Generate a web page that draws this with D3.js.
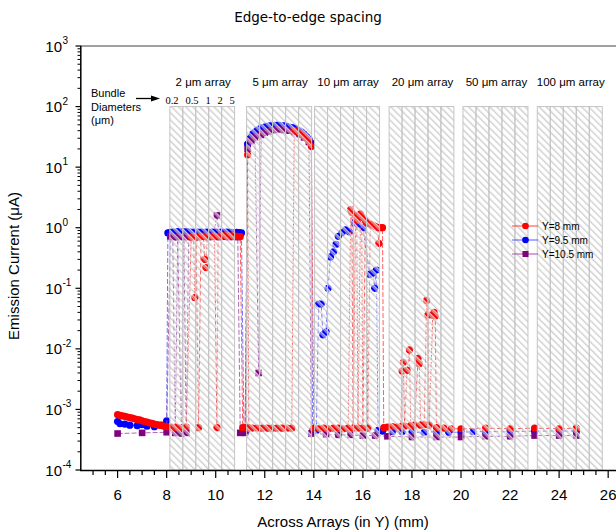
<!DOCTYPE html>
<html><head><meta charset="utf-8">
<script src="https://cdn.jsdelivr.net/npm/d3@7"></script>
<style>body{margin:0;background:#fff}svg{display:block}</style>
</head><body>
<script>
const title = "Edge-to-edge spacing";
const xLabel = "Across Arrays (in Y) (mm)";
const yLabel = "Emission Current (\u03bcA)";
const xTicks = [6, 8, 10, 12, 14, 16, 18, 20, 22, 24, 26];
const yTickExps = [-4, -3, -2, -1, 0, 1, 2, 3];
const arrayNames = ["2 \u03bcm array", "5 \u03bcm array", "10 \u03bcm array", "20 \u03bcm array", "50 \u03bcm array", "100 \u03bcm array"];
const arrayStart = [8.13, 11.26, 14.03, 17.07, 20.08, 23.11];
const arrayEnd = [10.77, 13.91, 16.68, 19.71, 22.73, 25.76];
const bundleDiameters = ["0.2", "0.5", "1", "2", "5"];
const seriesNames = ["Y=8 mm", "Y=9.5 mm", "Y=10.5 mm"];

const redX = [6.0,6.1,6.2,6.3,6.4,6.5,6.6,6.7,6.8,6.9,7.0,7.1,7.2,7.3,7.4,7.5,7.6,7.7,7.8,7.9,8.0,
  8.2,8.4,8.6,8.8,9.0,9.1,9.15,9.2,9.3,9.4,9.5,9.55,9.6,9.65,9.8,9.95,10.05,10.1,10.2,10.3,10.4,10.5,10.6,10.7,10.8,10.9,11.0,
  11.1,11.2,11.3,11.35,11.5,11.7,11.9,12.1,12.3,12.5,12.7,12.9,13.1,13.2,13.3,13.4,13.5,13.6,13.7,13.8,13.9,
  14.0,14.2,14.4,14.6,14.8,15.0,15.2,15.4,15.5,15.55,15.6,15.7,15.75,15.8,15.9,15.95,16.0,16.1,16.15,16.2,16.3,16.4,16.5,16.6,16.65,16.7,16.8,16.85,
  17.0,17.2,17.4,17.55,17.6,17.65,17.7,17.8,17.9,17.95,18.1,18.25,18.3,18.35,18.5,18.6,18.65,18.7,18.85,18.9,18.95,19.0,
  19.3,19.6,20.0,21.0,22.0,23.0,24.0,24.7];
const redY = [8.2e-4,8.0e-4,7.8e-4,7.7e-4,7.5e-4,7.3e-4,7.2e-4,7.0e-4,6.8e-4,6.7e-4,6.5e-4,6.3e-4,6.2e-4,6.0e-4,5.9e-4,5.7e-4,5.6e-4,5.5e-4,5.4e-4,5.3e-4,5.2e-4,
  5.1e-4,5.0e-4,5.0e-4,5.1e-4,0.7,0.72,0.07,0.7,5.0e-4,0.71,0.73,0.3,0.22,0.71,0.72,0.73,5.0e-4,0.72,0.73,0.74,0.73,0.74,0.73,0.74,0.73,0.72,0.71,
  5.0e-4,5.0e-4,16,5.0e-4,4.9e-4,4.9e-4,4.9e-4,4.9e-4,4.9e-4,4.9e-4,4.9e-4,4.9e-4,4.9e-4,40,39,37,35,33,30,27,22,
  4.9e-4,4.8e-4,4.9e-4,4.8e-4,4.9e-4,4.9e-4,4.8e-4,4.9e-4,2.0,1.8,4.9e-4,1.6,1.3,4.9e-4,1.7,1.5,4.9e-4,1.3,1.2,4.9e-4,1.15,1.1,1.05,1.0,0.55,1.0,1.0,5.0e-4,
  5.1e-4,5.2e-4,5.1e-4,5.2e-4,4.3e-3,6.0e-3,5.3e-4,4.4e-3,9.6e-3,5.4e-4,5.5e-4,7.0e-3,5.7e-3,5.5e-4,5.6e-4,0.063,0.036,5.5e-4,0.036,0.040,0.035,5.0e-4,
  4.9e-4,4.8e-4,4.8e-4,4.9e-4,4.8e-4,4.9e-4,4.8e-4,4.9e-4];

const blueX = [6.0,6.1,6.3,6.5,6.8,7.0,7.2,7.5,7.8,8.0,
  8.05,8.15,8.25,8.35,8.45,8.55,8.65,8.75,8.85,8.95,9.05,9.15,9.25,9.35,9.45,9.55,9.65,9.75,9.85,9.95,
  10.05,10.15,10.25,10.35,10.45,10.55,10.65,10.75,10.85,10.95,11.05,11.15,11.25,
  11.3,11.4,11.5,11.6,11.7,11.8,11.9,12.0,12.1,12.2,12.3,12.4,12.5,12.6,12.7,12.8,12.9,13.0,13.1,13.2,13.3,13.4,13.5,13.6,13.7,13.8,13.9,13.95,
  14.1,14.2,14.3,14.37,14.5,14.58,14.68,14.8,14.9,15.0,15.15,15.3,15.45,15.65,15.8,16.0,16.28,16.42,16.48,16.55,16.62,
  16.8,17.2,17.6,18.0,18.5,19.0,19.5,20.0,20.5,21.0,22.0,23.0,24.0,24.7];
const blueY = [6.3e-4,5.8e-4,5.7e-4,5.5e-4,5.4e-4,5.6e-4,5.3e-4,5.2e-4,5.5e-4,6.5e-4,
  0.82,0.84,0.85,0.85,0.86,0.85,0.86,0.85,0.86,0.85,0.84,0.85,0.85,0.84,0.85,0.84,0.85,0.84,0.85,0.84,
  0.85,0.84,0.85,0.84,0.85,0.84,0.84,0.83,0.84,0.83,0.82,4.5e-4,4.5e-4,
  24,30,35,38,41,43,45,46,47,48,48,49,49,49,48,48,47,46,45,44,42,40,38,35,32,29,25,4.5e-4,
  4.5e-4,0.055,0.055,0.017,0.019,0.1,0.33,0.4,0.53,0.72,0.83,0.92,0.86,1.22,1.15,1.0,0.17,0.18,0.1,0.2,4.5e-4,
  4.4e-4,4.3e-4,4.3e-4,4.2e-4,4.2e-4,4.3e-4,4.2e-4,4.2e-4,4.3e-4,4.3e-4,4.3e-4,4.4e-4,4.4e-4,4.4e-4];

const purpleX = [6.0,7.0,8.0,8.15,8.25,8.35,8.45,8.6,8.7,8.8,8.9,9.1,9.3,9.5,9.7,9.9,10.05,10.15,10.35,10.55,10.75,10.9,
  11.0,11.2,11.3,11.45,11.6,11.75,11.85,12.0,12.2,12.4,12.6,12.8,13.0,13.2,13.4,13.6,13.8,13.9,
  14.5,15.0,15.5,16.0,16.5,17.0,18.0,19.0,20.0,21.0,22.0,23.0,24.0,24.7];
const purpleY = [4.0e-4,4.1e-4,4.2e-4,0.72,0.7,4.1e-4,0.7,4.0e-4,0.7,4.1e-4,0.7,0.71,0.7,0.71,0.7,0.71,1.6,0.7,0.71,0.7,0.71,0.7,
  4.1e-4,4.1e-4,20,27,31,4.0e-3,34,37,39,41,42,41,40,38,35,31,26,4.0e-4,
  3.9e-4,3.8e-4,3.8e-4,3.7e-4,3.7e-4,3.6e-4,3.5e-4,3.5e-4,3.5e-4,3.6e-4,3.6e-4,3.7e-4,3.7e-4,3.7e-4];

const W = 616, H = 531;
const svg = d3.select("body").append("svg").attr("width", W).attr("height", H)
  .style("font-family", "'Liberation Sans', Arial, sans-serif");

const x = d3.scaleLinear().domain([4.5, 27]).range([80.8, 632.7]);
const y = d3.scaleLog().domain([1e-4, 1e3]).range([470, 46]);

// hatch pattern
const defs = svg.append("defs");
const pat = defs.append("pattern").attr("id", "hatch").attr("patternUnits", "userSpaceOnUse")
  .attr("width", 5).attr("height", 5).attr("patternTransform", "rotate(-45)");
pat.append("line").attr("x1", 2.2).attr("x2", 2.2).attr("y1", 0).attr("y2", 5)
  .attr("stroke", "#fff").attr("stroke-width", 1.1);
pat.append("line").attr("x1", 0.8).attr("x2", 0.8).attr("y1", 0).attr("y2", 5)
  .attr("stroke", "#bababa").attr("stroke-width", 1);

// series
const series = [
  {name: seriesNames[1], xs: blueX, ys: blueY, color: "#0000ff", line: "#5a5aff", sym: "circle"},
  {name: seriesNames[2], xs: purpleX, ys: purpleY, color: "#800080", line: "#a050a8", sym: "square"},
  {name: seriesNames[0], xs: redX, ys: redY, color: "#ff0000", line: "#ff4040", sym: "circle"}
];
const line = d3.line().x(d => x(d[0])).y(d => y(d[1]));
const gData = svg.append("g");
series.forEach(s => {
  const pts = s.xs.map((v, i) => [v, s.ys[i]]);
  gData.append("path").attr("d", line(pts)).attr("fill", "none")
    .attr("stroke", s.line).attr("stroke-width", 1).attr("stroke-dasharray", "5,2").attr("opacity", 0.85);
  if (s.sym === "circle") {
    gData.selectAll(null).data(pts).enter().append("circle")
      .attr("cx", d => x(d[0])).attr("cy", d => y(d[1])).attr("r", 3.6).attr("fill", s.color);
  } else {
    gData.selectAll(null).data(pts).enter().append("rect")
      .attr("x", d => x(d[0]) - 3.3).attr("y", d => y(d[1]) - 3.3).attr("width", 6.6).attr("height", 6.6)
      .attr("fill", s.color);
  }
});

// hatched array regions (drawn over data)
const gArr = svg.append("g");
arrayStart.forEach((s, i) => {
  const x0 = x(s), x1 = x(arrayEnd[i]);
  const cw = (x1 - x0) / bundleDiameters.length;
  bundleDiameters.forEach((b, j) => {
    gArr.append("rect").attr("x", x0 + j * cw).attr("y", y(100)).attr("width", cw).attr("height", y(1e-4) - y(100))
      .attr("fill", "url(#hatch)").attr("stroke", "#c4c4c4").attr("stroke-width", 1);
  });
  svg.append("text").attr("x", (x0 + x1) / 2 + 1).attr("y", 86).attr("text-anchor", "middle")
    .attr("font-size", 11.5).text(arrayNames[i]);
});

// bundle diameter labels above first array
const diamLabelX = [172, 192, 208, 220, 232];
bundleDiameters.forEach((b, j) => {
  svg.append("text").attr("x", diamLabelX[j]).attr("y", 104).attr("text-anchor", "middle")
    .attr("font-family", "'Liberation Serif', 'Times New Roman', serif").attr("font-size", 10.5).text(b);
});
const bl = svg.append("text").attr("font-size", 11).attr("x", 91);
bl.append("tspan").attr("x", 91).attr("y", 97).text("Bundle");
bl.append("tspan").attr("x", 91).attr("y", 110.6).text("Diameters");
bl.append("tspan").attr("x", 91).attr("y", 124.3).text("(\u03bcm)");
svg.append("line").attr("x1", 136).attr("x2", 153).attr("y1", 98.5).attr("y2", 98.5).attr("stroke", "#000").attr("stroke-width", 1.3);
svg.append("path").attr("d", "M160,98.5 L151,95.5 L151,101.5 Z").attr("fill", "#000");

// axes
const gAx = svg.append("g");
gAx.append("line").attr("x1", 80.8).attr("x2", W).attr("y1", 46).attr("y2", 46).attr("stroke", "#808080").attr("stroke-width", 1.5);
gAx.append("line").attr("x1", 80.8).attr("x2", 80.8).attr("y1", 46).attr("y2", 471).attr("stroke", "#000").attr("stroke-width", 1.5);
gAx.append("line").attr("x1", 80).attr("x2", W).attr("y1", 470.5).attr("y2", 470.5).attr("stroke", "#000").attr("stroke-width", 1.5);

// y ticks
yTickExps.forEach(e => {
  const v = Math.pow(10, e);
  const yy = y(v);
  gAx.append("line").attr("x1", 75.5).attr("x2", 81).attr("y1", yy).attr("y2", yy).attr("stroke", "#000").attr("stroke-width", 1.2);
  if (e < 3) {
    for (let m = 2; m <= 9; m++) {
      const ym = y(m * v);
      gAx.append("line").attr("x1", 77.5).attr("x2", 81).attr("y1", ym).attr("y2", ym).attr("stroke", "#000").attr("stroke-width", 1);
    }
  }
  gAx.append("text").attr("x", 62).attr("y", yy + 5.5).attr("text-anchor", "end").attr("font-size", 15).text("10");
  gAx.append("text").attr("x", 62.5).attr("y", yy - 2).attr("text-anchor", "start").attr("font-size", 10).text(e);
});

// x ticks
for (let v = 5; v <= 26.5; v += 0.5) {
  const major = xTicks.includes(v);
  const xx = x(v);
  gAx.append("line").attr("x1", xx).attr("x2", xx).attr("y1", 470).attr("y2", major ? 478 : 475)
    .attr("stroke", "#000").attr("stroke-width", 1.2);
}
xTicks.forEach(v => {
  gAx.append("text").attr("x", x(v)).attr("y", 500).attr("text-anchor", "middle").attr("font-size", 15).text(v);
});

// labels
svg.append("text").attr("x", 308).attr("y", 22).attr("text-anchor", "middle")
  .attr("font-family", "'DejaVu Sans', sans-serif").attr("font-size", 13.5).text(title);
svg.append("text").attr("x", 343).attr("y", 527).attr("text-anchor", "middle").attr("font-size", 15).text(xLabel);
svg.append("text").attr("transform", "translate(19,266) rotate(-90)").attr("text-anchor", "middle")
  .attr("font-size", 15).text(yLabel);

// legend
const legend = [series[2], series[0], series[1]];
legend.forEach((s, i) => {
  const ly = 226 + i * 14;
  svg.append("line").attr("x1", 512).attr("x2", 538).attr("y1", ly).attr("y2", ly).attr("stroke", s.line).attr("stroke-width", 1);
  if (s.sym === "circle") {
    svg.append("circle").attr("cx", 525.5).attr("cy", ly).attr("r", 3.3).attr("fill", s.color);
  } else {
    svg.append("rect").attr("x", 522.5).attr("y", ly - 3).attr("width", 6).attr("height", 6).attr("fill", s.color);
  }
  svg.append("text").attr("x", 542).attr("y", ly + 3.5).attr("font-size", 10).text(s.name);
});
</script>
</body></html>
